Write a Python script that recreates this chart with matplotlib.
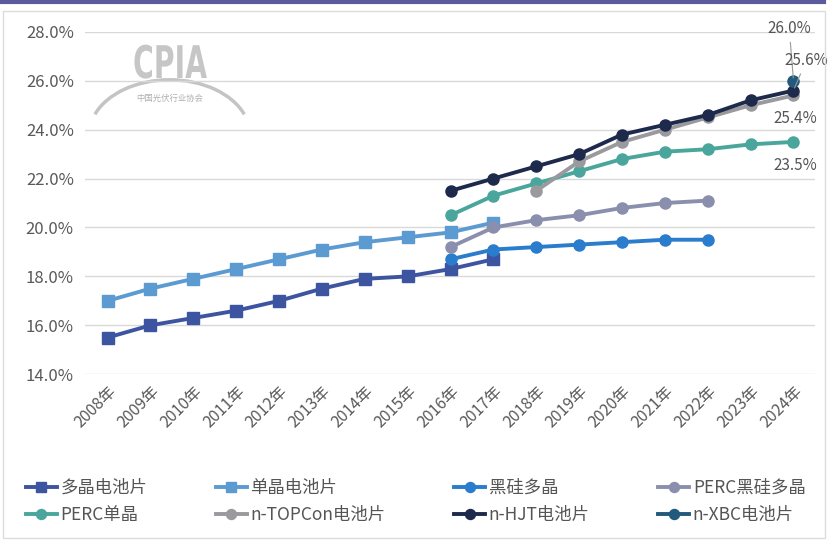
import numpy as np
import matplotlib.pyplot as plt
from matplotlib.patches import Arc, Rectangle, PathPatch
from matplotlib.lines import Line2D
from matplotlib.textpath import TextPath
from matplotlib.font_manager import FontProperties
from matplotlib.transforms import Affine2D

plt.rcParams['font.family'] = ['Noto Sans CJK SC', 'DejaVu Sans']

years = ["2008年", "2009年", "2010年", "2011年", "2012年", "2013年", "2014年", "2015年",
         "2016年", "2017年", "2018年", "2019年", "2020年", "2021年", "2022年", "2023年", "2024年"]

# 各类电池片平均转换效率 (%)
duojing = [15.5, 16.0, 16.3, 16.6, 17.0, 17.5, 17.9, 18.0, 18.3, 18.7]          # 2008-2017
danjing = [17.0, 17.5, 17.9, 18.3, 18.7, 19.1, 19.4, 19.6, 19.8, 20.2]          # 2008-2017
heigui = [18.7, 19.1, 19.2, 19.3, 19.4, 19.5, 19.5]                             # 2016-2022
perc_heigui = [19.2, 20.0, 20.3, 20.5, 20.8, 21.0, 21.1]                        # 2016-2022
perc_danjing = [20.5, 21.3, 21.8, 22.3, 22.8, 23.1, 23.2, 23.4, 23.5]           # 2016-2024
topcon = [21.5, 22.7, 23.5, 24.0, 24.5, 25.0, 25.4]                             # 2018-2024
hjt = [21.5, 22.0, 22.5, 23.0, 23.8, 24.2, 24.6, 25.2, 25.6]                    # 2016-2024
xbc = [26.0]                                                                    # 2024

series = [
    ("多晶电池片", 0, duojing, "#3d55a0", "s"),
    ("单晶电池片", 0, danjing, "#5b9bd2", "s"),
    ("黑硅多晶", 8, heigui, "#2a7ccc", "o"),
    ("PERC黑硅多晶", 8, perc_heigui, "#8b8fae", "o"),
    ("PERC单晶", 8, perc_danjing, "#4aa69c", "o"),
    ("n-TOPCon电池片", 10, topcon, "#9a9a9e", "o"),
    ("n-HJT电池片", 8, hjt, "#1e2a4c", "o"),
    ("n-XBC电池片", 16, xbc, "#215a7c", "o"),
]

fig = plt.figure(figsize=(8.32, 5.4), dpi=100)
ax = fig.add_axes([0.102, 0.307, 0.878, 0.634])

# 背景框和顶部色条
fig.patches.append(Rectangle((0.004, 0.004), 0.988, 0.975, transform=fig.transFigure,
                             fill=False, edgecolor="#dcdcdc", linewidth=1))
fig.add_artist(Line2D([0.0, 0.99], [0.996, 0.996], transform=fig.transFigure,
                      color="#5c5a9c", linewidth=3))

# 水印 (窄体 CPIA 字样 + 弧线 + 协会名)
tp = TextPath((0, 0), "CPIA", size=45, prop=FontProperties(family="DejaVu Sans", weight="bold"))
wm = PathPatch(tp, transform=Affine2D().scale(0.63, 1.0).translate(133, 462),
               facecolor="#c6c6c6", edgecolor="none", zorder=0)
fig.patches.append(wm)
ax.add_patch(Arc((0.116, 0.70), 0.22, 0.32, theta1=30, theta2=150, transform=ax.transAxes,
                 color="#c4c4c4", linewidth=2.5, zorder=0))
ax.text(0.116, 0.805, "中国光伏行业协会", transform=ax.transAxes, fontsize=6,
        color="#b0b0b0", ha="center", va="center", zorder=0)

x = np.arange(len(years))
for name, start, vals, color, marker in series:
    xs = x[start:start + len(vals)]
    ax.plot(xs, vals, color=color, marker=marker, markersize=8, linewidth=2.8,
            label=name, zorder=3)

# 2024年数值标注
lbl_col = "#555555"
ax.annotate("26.0%", xy=(16, xbc[0]), xytext=(15.9, 27.8), fontsize=11, color=lbl_col,
            ha="center", va="bottom",
            arrowprops=dict(arrowstyle="-", color="#999999", lw=0.8))
ax.annotate("25.6%", xy=(16, hjt[-1]), xytext=(16.3, 26.5), fontsize=11, color=lbl_col,
            ha="center", va="bottom",
            arrowprops=dict(arrowstyle="-", color="#999999", lw=0.8))
ax.text(16.05, 24.1, "25.4%", fontsize=11, color=lbl_col, ha="center", va="bottom")
ax.text(16.05, 22.2, "23.5%", fontsize=11, color=lbl_col, ha="center", va="bottom")

ax.set_xlim(-0.53, 16.51)
ax.set_ylim(14, 28)
ax.set_yticks(np.arange(14, 28.1, 2))
ax.set_yticklabels(["%.1f%%" % v for v in np.arange(14, 28.1, 2)], fontsize=12, color="#595959")
ax.set_xticks(x)
ax.set_xticklabels(years, rotation=45, ha="right", rotation_mode="anchor",
                   fontsize=11.5, color="#595959")
ax.tick_params(length=0, pad=8)
ax.tick_params(axis="x", pad=6)
ax.grid(axis="y", color="#d9d9d9", linewidth=1)
ax.set_axisbelow(True)
for s in ax.spines.values():
    s.set_visible(False)

# 图例按行排列: 两行四列
handles, labels = ax.get_legend_handles_labels()
order = [0, 4, 1, 5, 2, 6, 3, 7]
fig.legend([handles[i] for i in order], [labels[i] for i in order],
           loc="lower left", bbox_to_anchor=(0.012, 0.0, 0.975, 0.1),
           ncol=4, mode="expand", frameon=False, fontsize=12.5, handlelength=1.8,
           handletextpad=0.2, labelspacing=0.55, markerscale=0.9,
           labelcolor="#555555")

fig.savefig("out.png", dpi=100, facecolor="white")
